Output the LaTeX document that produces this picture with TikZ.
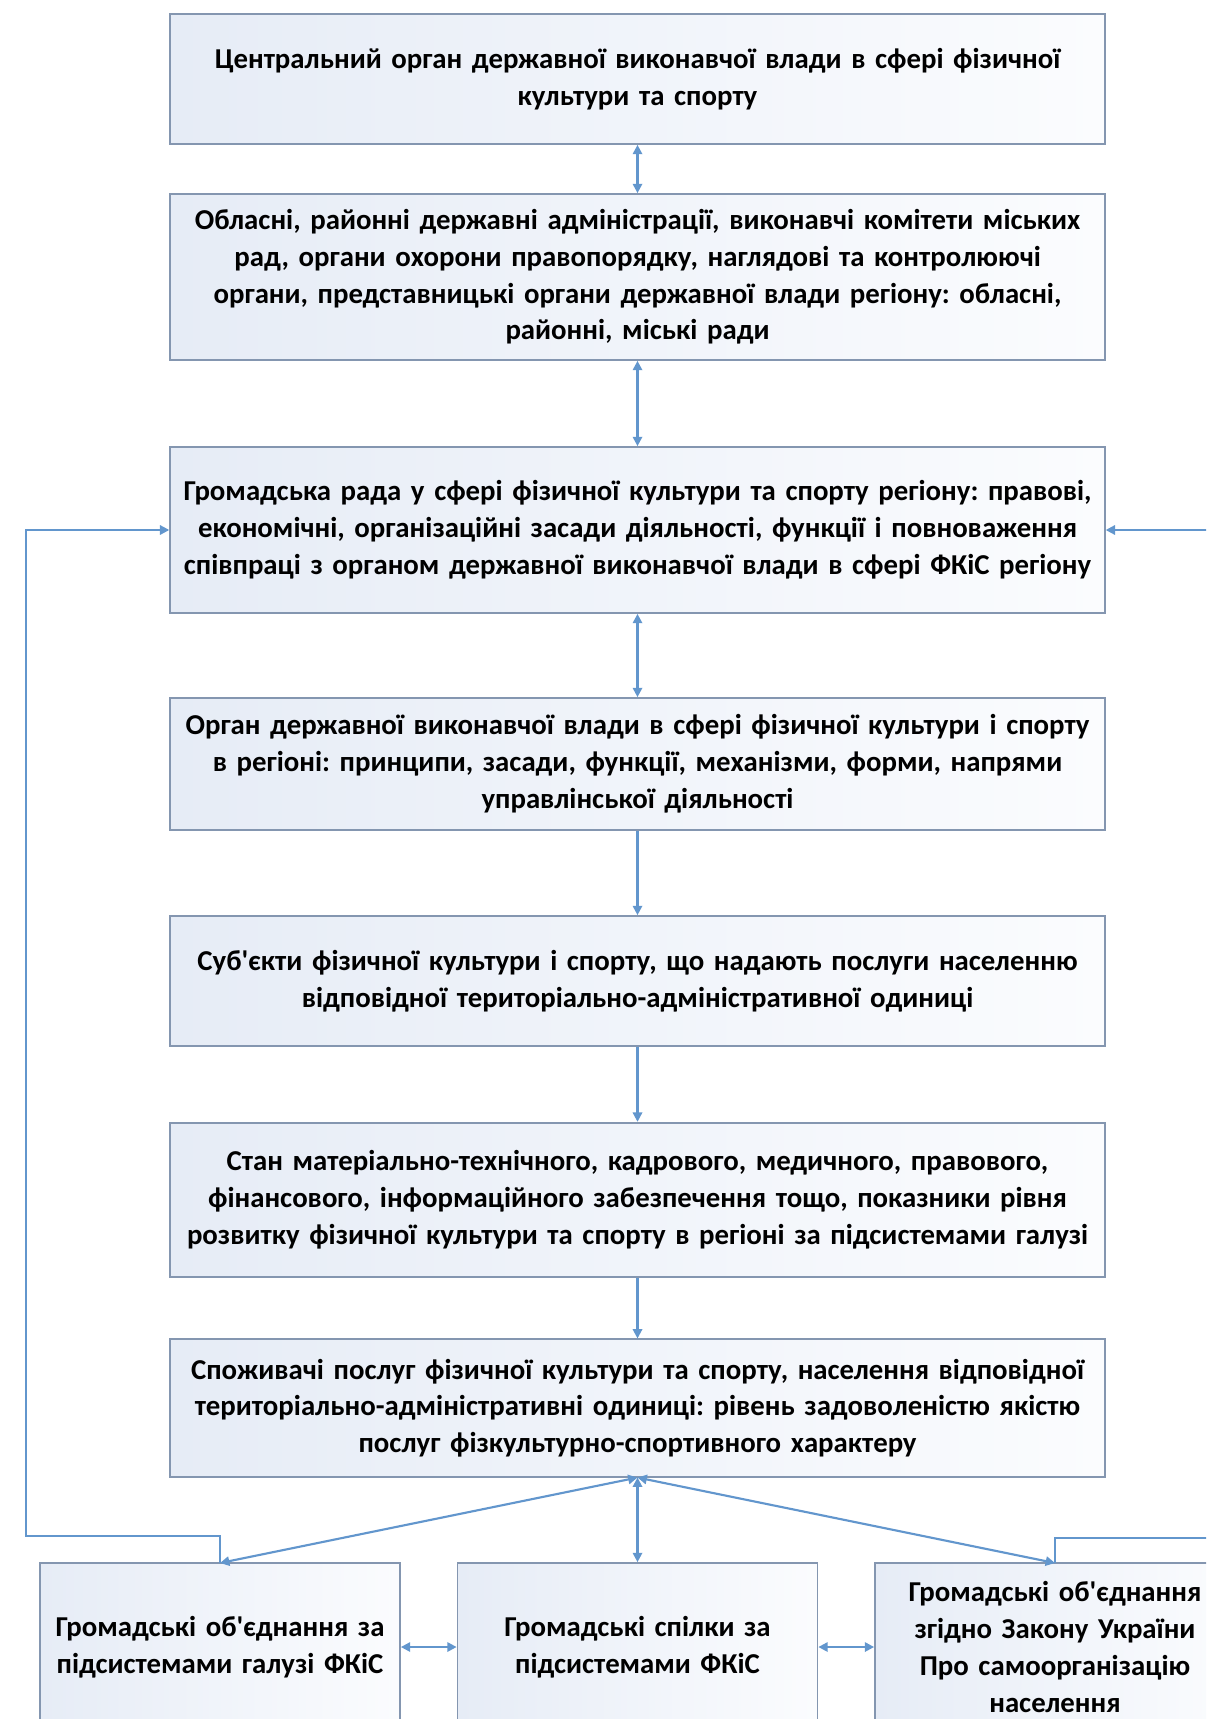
\documentclass[tikz,border=0pt]{standalone}
\usepackage{fontspec}
\setmainfont{Carlito}
\usetikzlibrary{arrows.meta}
\definecolor{blkline}{RGB}{132,150,176}
\definecolor{blkfillA}{RGB}{230,236,246}
\definecolor{blkfillB}{RGB}{251,252,254}
\definecolor{lnkcol}{RGB}{98,150,205}
\newcommand{\blkfont}{\fontsize{21.6}{27.6}\selectfont\bfseries\frenchspacing}
\newcommand{\apos}{\textquotesingle}
\tikzset{
  blk/.style={draw=blkline, line width=1.3pt, left color=blkfillA, right color=blkfillB,
    align=center, font=\blkfont, inner sep=0pt},
  wideblk/.style={blk, text width=701pt, minimum height=#1},
  smallblk/.style={blk, text width=270pt, minimum height=126pt},
  lnk/.style={draw=lnkcol, line width=1.6pt, {Triangle[length=7pt,width=7pt]}-{Triangle[length=7pt,width=7pt]}},
  lnkone/.style={draw=lnkcol, line width=1.6pt, -{Triangle[length=7pt,width=7pt]}}
}
\begin{document}
\begin{tikzpicture}[x=0.75pt,y=0.75pt,yscale=-1,xscale=1]
\useasboundingbox (0,0) rectangle (1206,1719);
\clip (0,0) rectangle (1206,1719);

% main column
\node[wideblk=97.5pt] (cent) at (637.5,79) {Центральний орган державної виконавчої влади в сфері фізичної\\культури та спорту};
\node[wideblk=124.5pt] (obl) at (637.5,277) {Обласні, районні державні адміністрації, виконавчі комітети міських\\рад, органи охорони правопорядку, наглядові та контролюючі\\органи, представницькі органи державної влади регіону: обласні,\\районні, міські ради};
\node[wideblk=124.5pt] (rada) at (637.5,530) {Громадська рада у сфері фізичної культури та спорту регіону: правові,\\економічні, організаційні засади діяльності, функції і повноваження\\співпраці з органом державної виконавчої влади в сфері ФКіС регіону};
\node[wideblk=99pt] (organ) at (637.5,764) {Орган державної виконавчої влади в сфері фізичної культури і спорту\\в регіоні: принципи, засади, функції, механізми, форми, напрями\\управлінської діяльності};
\node[wideblk=97.5pt] (subj) at (637.5,981) {Суб\apos єкти фізичної культури і спорту, що надають послуги населенню\\відповідної територіально-адміністративної одиниці};
\node[wideblk=116pt] (stan) at (637.5,1200) {Стан матеріально-технічного, кадрового, медичного, правового,\\фінансового, інформаційного забезпечення тощо, показники рівня\\розвитку фізичної культури та спорту в регіоні за підсистемами галузі};
\node[wideblk=103pt] (spoz) at (637.5,1408) {Споживачі послуг фізичної культури та спорту, населення відповідної\\територіально-адміністративні одиниці: рівень задоволеністю якістю\\послуг фізкультурно-спортивного характеру};

% bottom row
\node[smallblk] (gobl) at (220,1647) {Громадські об\apos єднання за\\підсистемами галузі ФКіС};
\node[smallblk] (gspil) at (637.5,1647) {Громадські спілки за\\підсистемами ФКіС};
\node[smallblk] (gzak) at (1055,1647) {Громадські об\apos єднання\\згідно Закону України\\Про самоорганізацію\\населення};

\coordinate (lfoot) at (220,1563);
\coordinate (rfoot) at (1055,1563);
\coordinate (lrail) at (26,1536);
\coordinate (rrail) at (1230,1538);

% connectors
\draw[lnk] (cent) -- (obl);
\draw[lnk] (obl) -- (rada);
\draw[lnk] (rada) -- (organ);
\draw[lnkone] (organ) -- (subj);
\draw[lnkone] (subj) -- (stan);
\draw[lnkone] (stan) -- (spoz);
\draw[lnk] (spoz.south) -- (lfoot);
\draw[lnk] (spoz.south) -- (gspil);
\draw[lnk] (spoz.south) -- (rfoot);
\draw[lnk] (gobl) -- (gspil);
\draw[lnk] (gspil) -- (gzak);
\draw[lnkone] (lfoot) |- (lrail) |- (rada.west);
\draw[lnkone] (rfoot) |- (rrail) |- (rada.east);
\end{tikzpicture}
\end{document}
